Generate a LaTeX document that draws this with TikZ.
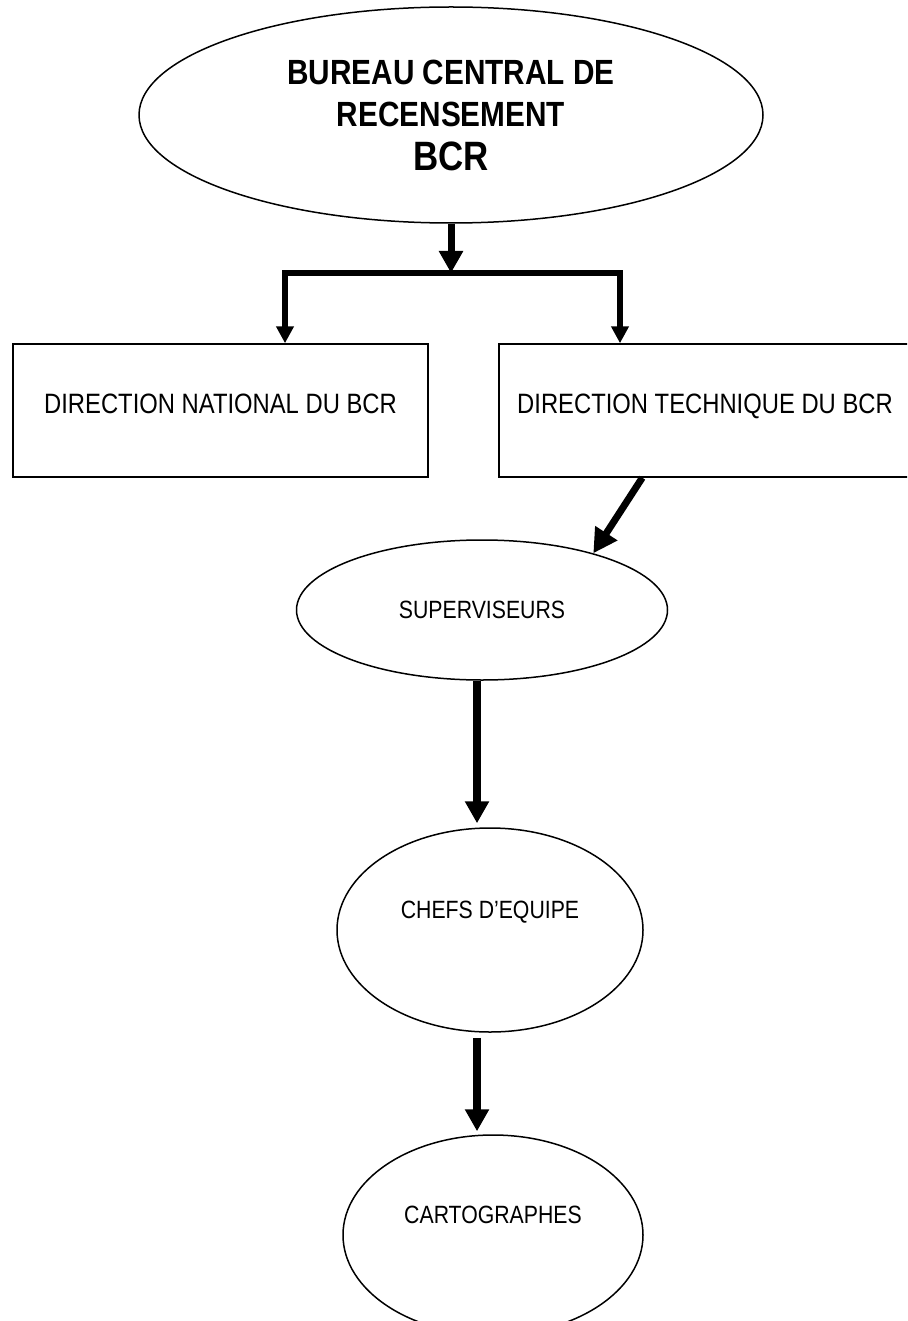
\documentclass[tikz,border=0pt]{standalone}
\usepackage{fontspec}
\setmainfont[FakeStretch=0.85]{Liberation Sans}
\usepackage{tikz}
\usetikzlibrary{arrows.meta}
\usetikzlibrary{shapes.geometric}

\begin{document}
\begin{tikzpicture}[x=1pt, y=-1pt,
    box/.style={draw, line width=1.5pt, rectangle, minimum width=415pt,
      minimum height=133pt, text depth=13pt, font=\fontsize{28}{32}\selectfont},
    oval/.style={draw, line width=1.5pt, ellipse, inner sep=0pt,
      font=\fontsize{25}{30}\selectfont},
    flow/.style={line width=7pt, -{Triangle[width=23pt, length=22pt]}},
  ]

    \clip (0, 0) rectangle (907, 1321);

    \node [oval, minimum width=624pt, minimum height=216pt, align=center,
      font=\bfseries\fontsize{35}{42}\selectfont] (bcr) at (451, 115)
      {BUREAU CENTRAL DE\\RECENSEMENT\\[2pt]{\fontsize{41}{46}\selectfont BCR}};

    \node [box] (national) at (220.5, 410.5) {DIRECTION NATIONAL DU BCR};
    \node [box, minimum width=412pt] (technique) at (705, 410.5)
      {DIRECTION TECHNIQUE DU BCR};

    \node [oval, minimum width=371pt, minimum height=140pt] (superviseurs)
      at (482, 610) {SUPERVISEURS};
    \node [oval, minimum width=306pt, minimum height=204pt, text depth=40pt]
      (chefs) at (490, 930) {CHEFS D'EQUIPE};
    \node [oval, minimum width=300pt, minimum height=200pt, text depth=40pt]
      (carto) at (493, 1235) {CARTOGRAPHES};

    % split towards the two directions
    \coordinate (split) at (451, 273);
    \coordinate (left) at (285, 273);
    \coordinate (right) at (620, 273);

    \draw [flow] (bcr.south) -- (split);
    \draw [line width=6pt, {Triangle[width=17pt, length=17pt]}-{Triangle[width=17pt, length=17pt]}]
    (left |- national.north) -- (left) -- (right) -- (right |- technique.north);

    \draw [flow, -{Triangle[width=25pt, length=24pt]}]
    ([xshift=144pt]technique.south west) -- (superviseurs.27);

    \draw [flow, line width=8pt, shorten >=4pt]
    ([xshift=-5pt]superviseurs.south) -- ([xshift=-13pt]chefs.north);

    \draw [flow, line width=8pt, shorten <=5pt, shorten >=3pt]
    ([xshift=-13pt]chefs.south) -- ([xshift=-16pt]carto.north);

  \end{tikzpicture}
\end{document}
